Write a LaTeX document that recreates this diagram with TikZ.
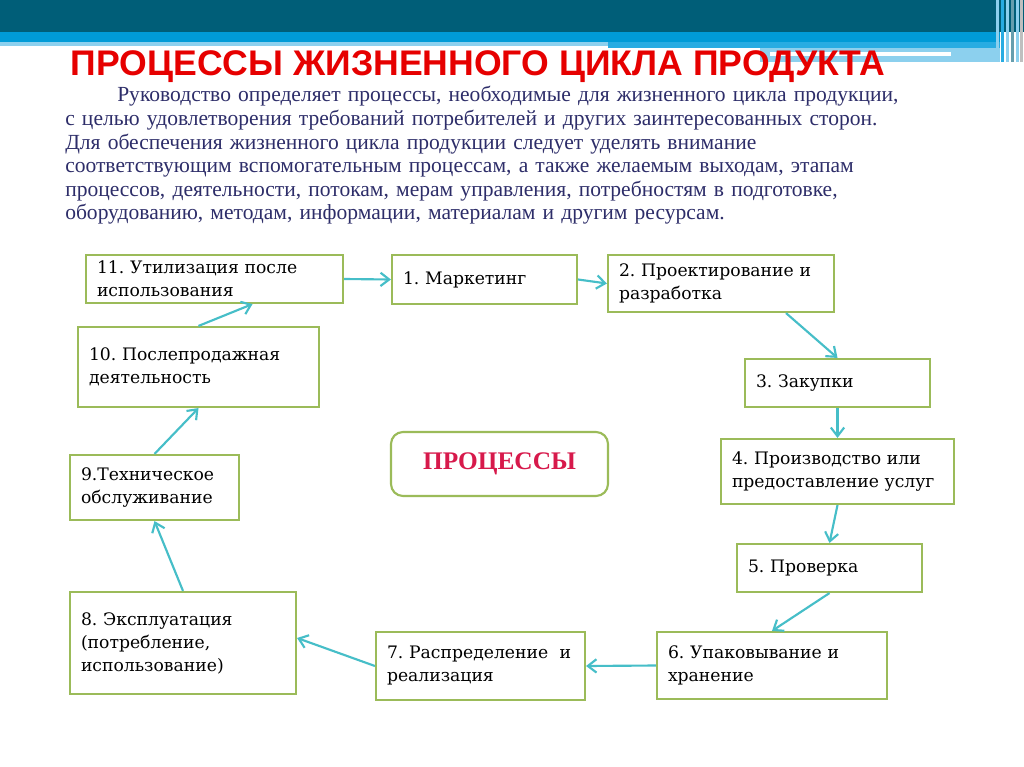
\documentclass[tikz,border=0pt]{standalone}
\usepackage{fontspec}
\setmainfont{Liberation Serif}
\newfontfamily\boxfont{DejaVu Serif}
\newfontfamily\headfont{Liberation Sans}
\usetikzlibrary{arrows.meta, calc}
\usepackage{xcolor}
\definecolor{bannerdark}{RGB}{0, 94, 120}
\definecolor{bannerblue}{RGB}{0, 155, 215}
\definecolor{bannermid}{RGB}{40, 172, 226}
\definecolor{bannerlight}{RGB}{140, 208, 238}
\definecolor{titlered}{RGB}{230, 0, 0}
\definecolor{textnavy}{RGB}{45, 45, 105}
\definecolor{stagegreen}{RGB}{155, 187, 89}
\definecolor{arrowcyan}{RGB}{70, 190, 200}
\definecolor{proccrimson}{RGB}{215, 25, 75}
\frenchspacing

\begin{document}
\begin{tikzpicture}[
    x=0.75pt, y=-0.75pt,
    stage/.style={rectangle, draw=stagegreen, line width=1.6pt, fill=white, align=left,
        inner xsep=8.25pt, inner ysep=0pt, font=\boxfont\fontsize{12.9}{17.25}\selectfont},
    arrow/.style={-{Straight Barb[length=6.5pt, width=10pt]}, line width=1.6pt, draw=arrowcyan}
]
\useasboundingbox (0,0) rectangle (1024,767);
\fill[white] (0,0) rectangle (1024,767);

% Banner
\fill[bannerdark] (0,0) rectangle (1024,32);
\fill[bannerblue] (0,32) rectangle (1000,42);
\fill[bannerlight] (0,42) rectangle (608,46);
\fill[bannermid] (608,42) rectangle (1000,48);
\fill[bannerlight] (760,48) rectangle (1000,62);
\fill[white] (770,52) rectangle (951,56);
\foreach \sx/\sc in {996/bannerlight, 1001/bannermid, 1006/bannerlight, 1011/bannerdark!60, 1016/bannerlight, 1020/gray!50}
    \fill[\sc] (\sx,0) rectangle ++(3,62);

% Title and text
\node[anchor=base, inner sep=0pt, text=titlered, font=\headfont\bfseries\fontsize{26.7}{30}\selectfont]
    (title) at (478,75) {ПРОЦЕССЫ ЖИЗНЕННОГО ЦИКЛА ПРОДУКТА};
\node[anchor=base west, inner sep=0pt, text=textnavy, align=left, text width=690pt,
    font=\fontsize{16.15}{17.7}\selectfont] (intro) at (65,102)
    {\hspace*{39pt}Руководство определяет процессы, необходимые для жизненного цикла продукции,\\
     с целью удовлетворения требований потребителей и других заинтересованных сторон.\\
     Для обеспечения жизненного цикла продукции следует уделять внимание\\
     соответствующим вспомогательным процессам, а также желаемым выходам, этапам\\
     процессов, деятельности, потокам, мерам управления, потребностям в подготовке,\\
     оборудованию, методам, информации, материалам и другим ресурсам.};

% Stages
\node[stage, minimum width=192.75pt, minimum height=36pt, text width=176.25pt] (b11) at (214.5,279) {11. Утилизация после\\использования};
\node[stage, minimum width=138.75pt, minimum height=36.75pt, text width=122.25pt] (b1) at (484.5,279.5) {1. Маркетинг};
\node[stage, minimum width=169.5pt, minimum height=42.75pt, text width=153pt] (b2) at (721,283.5) {2. Проектирование и\\разработка};
\node[stage, minimum width=138.75pt, minimum height=36pt, text width=122.25pt] (b3) at (837.5,383) {3. Закупки};
\node[stage, minimum width=174.75pt, minimum height=48.75pt, text width=158.25pt] (b4) at (837.5,471.5) {4. Производство или\\предоставление услуг};
\node[stage, minimum width=138.75pt, minimum height=36pt, text width=122.25pt] (b5) at (829.5,568) {5. Проверка};
\node[stage, minimum width=172.5pt, minimum height=50.25pt, text width=156pt] (b6) at (772,665.5) {6. Упаковывание и\\хранение};
\node[stage, minimum width=156.75pt, minimum height=51pt, text width=140.25pt] (b7) at (480.5,666) {7. Распределение\ \ и\\реализация};
\node[stage, minimum width=169.5pt, minimum height=76.5pt, text width=153pt] (b8) at (183,643) {8. Эксплуатация\\(потребление,\\использование)};
\node[stage, minimum width=126.75pt, minimum height=48.75pt, text width=110.25pt] (b9) at (154.5,487.5) {9.Техническое\\обслуживание};
\node[stage, minimum width=180.75pt, minimum height=60pt, text width=164.25pt] (b10) at (198.5,367) {10. Послепродажная\\деятельность};

% Center label
\node[rectangle, rounded corners=9pt, draw=stagegreen, line width=1.6pt, fill=white,
    minimum width=162.75pt, minimum height=48pt, text=proccrimson,
    font=\bfseries\fontsize{19}{22}\selectfont] (proc) at (499.5,464) {ПРОЦЕССЫ};

% Arrows
\draw[arrow] (b11.east) -- (b1.west);
\draw[arrow] (b1.east) -- (b2.west);
\draw[arrow] ($(b2.south)+(65,0)$) -- (b3.north);
\draw[arrow] (b3.south) -- (b4.north);
\draw[arrow] (b4.south) -- (b5.north);
\draw[arrow] (b5.south) -- (b6.north);
\draw[arrow] (b6.west) -- (b7.east);
\draw[arrow] (b7.west) -- ($(b8.east)+(0,-5)$);
\draw[arrow] (b8.north) -- (b9.south);
\draw[arrow] (b9.north) -- (b10.south);
\draw[arrow] (b10.north) -- ($(b11.south)+(38,0)$);

\end{tikzpicture}
\end{document}
